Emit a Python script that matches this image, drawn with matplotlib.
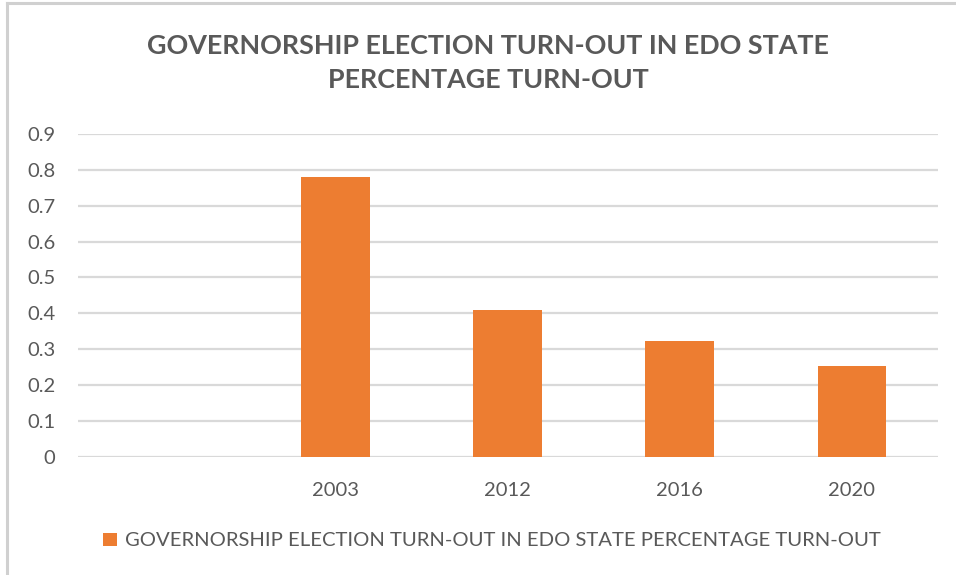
import matplotlib
matplotlib.use("Agg")
import matplotlib.pyplot as plt
from matplotlib.lines import Line2D

categories = ["", "2003", "2012", "2016", "2020"]
turnout = [0.0, 0.78, 0.408, 0.324, 0.253]
yticks = [0, 0.1, 0.2, 0.3, 0.4, 0.5, 0.6, 0.7, 0.8, 0.9]
title = "GOVERNORSHIP ELECTION TURN-OUT IN EDO STATE\nPERCENTAGE TURN-OUT"
series_name = "GOVERNORSHIP ELECTION TURN-OUT IN EDO STATE PERCENTAGE TURN-OUT"

BAR = "#ED7D31"
TEXT = "#595959"
GRID = "#D9D9D9"
FONT = "Lato"

fig = plt.figure(figsize=(9.56, 5.75), dpi=100)
fig.patch.set_facecolor("white")

# chart frame (top and left edges)
fig.add_artist(Line2D([7 / 956, 7 / 956], [0, 1 - 3 / 575], color="#D0D0D0", lw=2.2,
                      transform=fig.transFigure))
fig.add_artist(Line2D([7 / 956, 1], [1 - 3 / 575, 1 - 3 / 575], color="#D0D0D0", lw=2.2,
                      transform=fig.transFigure))

ax = fig.add_axes([77.7 / 956, 1 - 456.7 / 575, (938 - 77.7) / 956, (456.7 - 134) / 575])
x = list(range(len(categories)))
vals = [v if v > 0 else 0 for v in turnout]
ax.bar(x, vals, width=0.4, color=BAR, zorder=3, label=series_name)

ax.set_xlim(-0.5, len(categories) - 0.5)
ax.set_ylim(0, 0.9)
ax.set_yticks(yticks)
ax.set_yticklabels([f"{t:g}" for t in yticks], fontsize=14.5, color=TEXT, family=FONT)
ax.set_xticks(x)
ax.set_xticklabels(categories, fontsize=14.5, color=TEXT, family=FONT)
ax.tick_params(axis="y", length=0, pad=16)
ax.tick_params(axis="x", length=0, pad=18)
ax.grid(axis="y", color=GRID, lw=1.6, zorder=0)
ax.set_axisbelow(True)
for s in ax.spines.values():
    s.set_visible(False)

fig.text(488 / 956, 1 - 63 / 575, title, ha="center", va="center", fontsize=19.4,
         fontweight="bold", color=TEXT, family=FONT, linespacing=1.55)

leg = fig.legend(loc="center", bbox_to_anchor=(492 / 956, 1 - 541 / 575), frameon=False,
                 prop={"family": FONT, "size": 14.6}, handlelength=0.65, handleheight=0.65,
                 handletextpad=0.4)
for t in leg.get_texts():
    t.set_color(TEXT)

fig.savefig("out.png", dpi=100, facecolor="white")
